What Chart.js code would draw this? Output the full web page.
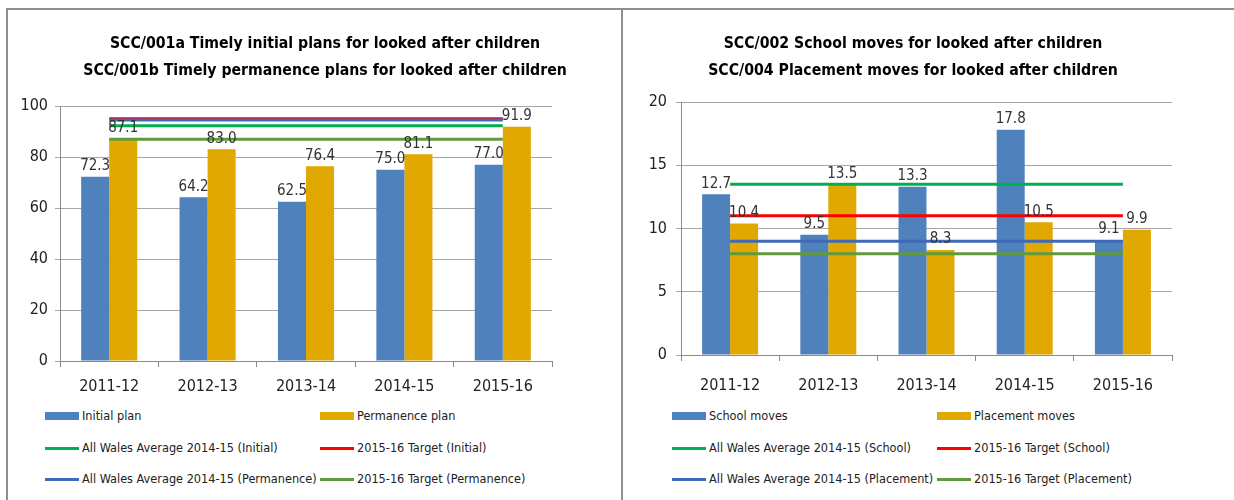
<!DOCTYPE html>
<html>
<head>
<meta charset="utf-8">
<script src="https://cdn.jsdelivr.net/npm/chart.js@4"></script>
<style>
  html, body { margin: 0; padding: 0; background: #fff; }
  body { width: 1234px; height: 500px; position: relative; overflow: hidden;
         font-family: 'Liberation Sans Narrow', 'DejaVu Sans Condensed', 'Liberation Sans', sans-serif; }
  .panel { position: absolute; top: 8px; height: 500px; border-top: 2px solid #8f8f8f; border-left: 2px solid #8f8f8f; box-sizing: border-box; }
  .box { position: absolute; }
  .title { position: absolute; width: 700px; margin-left: -350px; text-align: center; font-weight: bold;
           font-size: 15.7px; line-height: 27px; color: #000; white-space: nowrap; }
  .legend { position: absolute; font-size: 12.6px; color: #222; }
  .item { position: absolute; height: 20px; line-height: 20px; white-space: nowrap; }
  .sw { position: absolute; top: 50%; }
  .txt { position: absolute; }
</style>
</head>
<body>
<div class="panel" style="left:6px; width:616px;"></div>
<div class="panel" style="left:621px; width:620px;"></div>
<div class="box" style="left:6px; top:8px; width:616px; height:392px;"><canvas id="left"></canvas></div>
<div class="box" style="left:622px; top:8px; width:612px; height:392px;"><canvas id="right"></canvas></div>
<div id="titleLeft" class="title" style="left:325px; top:29px;"></div>
<div id="titleRight" class="title" style="left:913px; top:29px;"></div>
<div id="legendLeft" class="legend"></div>
<div id="legendRight" class="legend"></div>
<script>
// 카테고리 (연도)
const years = ['2011-12', '2012-13', '2013-14', '2014-15', '2015-16'];

// 왼쪽 차트: SCC/001a, SCC/001b
const leftTitle = ['SCC/001a Timely initial plans for looked after children', 'SCC/001b Timely permanence plans for looked after children'];
const initialPlan = [72.3, 64.2, 62.5, 75.0, 77.0];
const permanencePlan = [87.1, 83.0, 76.4, 81.1, 91.9];
const awAvgInitial = [92.3, 92.3, 92.3, 92.3, 92.3];
const targetInitial = [95, 95, 95, 95, 95];
const awAvgPermanence = [94.5, 94.5, 94.5, 94.5, 94.5];
const targetPermanence = [87, 87, 87, 87, 87];
const leftTicks = [0, 20, 40, 60, 80, 100];

// 오른쪽 차트: SCC/002, SCC/004
const rightTitle = ['SCC/002 School moves for looked after children', 'SCC/004 Placement moves for looked after children'];
const schoolMoves = [12.7, 9.5, 13.3, 17.8, 9.1];
const placementMoves = [10.4, 13.5, 8.3, 10.5, 9.9];
const awAvgSchool = [13.5, 13.5, 13.5, 13.5, 13.5];
const targetSchool = [11, 11, 11, 11, 11];
const awAvgPlacement = [9, 9, 9, 9, 9];
const targetPlacement = [8, 8, 8, 8, 8];
const rightTicks = [0, 5, 10, 15, 20];

const FONT = "'Liberation Sans Narrow', 'DejaVu Sans Condensed', 'Liberation Sans', sans-serif";
const BLUE = '#4f81bd';
const GOLD = '#e0a800';
const GREEN = '#00b050';
const RED = '#ff0000';
const NAVY = '#4169b8';
const OLIVE = '#5f9b3a';

// 막대 위에 값 표시
const valueLabels = {
  id: 'valueLabels',
  afterDatasetsDraw(chart) {
    const ctx = chart.ctx;
    ctx.save();
    ctx.font = '15px ' + FONT;
    ctx.fillStyle = '#333';
    ctx.textAlign = 'center';
    ctx.textBaseline = 'bottom';
    chart.data.datasets.forEach((ds, i) => {
      if (ds.type !== 'bar') return;
      chart.getDatasetMeta(i).data.forEach((el, j) => {
        ctx.fillText(ds.data[j].toFixed(1), el.x, el.y - 3);
      });
    });
    ctx.restore();
  }
};

function barSet(label, data, color) {
  return { type: 'bar', label, data, backgroundColor: color, borderWidth: 0,
           categoryPercentage: 0.57, barPercentage: 1.0, order: 3 };
}
function lineSet(label, data, color, order) {
  return { type: 'line', label, data, borderColor: color, backgroundColor: color,
           borderWidth: 3, pointRadius: 0, fill: false, order };
}

function makeChart(id, datasets, ticks, o) {
  return new Chart(document.getElementById(id), {
    data: { labels: years, datasets },
    options: {
      responsive: true,
      maintainAspectRatio: false,
      animation: false,
      layout: { padding: { left: 0, right: o.padRight, top: o.padTop, bottom: 0 } },
      plugins: {
        legend: { display: false },
        tooltip: { enabled: false },
        title: { display: false }
      },
      scales: {
        x: {
          grid: { drawOnChartArea: false, drawTicks: true, tickLength: 6, color: '#8a8a8a', offset: true },
          border: { display: true, color: '#8a8a8a', width: 1 },
          ticks: { color: '#222', padding: o.xPad, font: { family: FONT, size: 16 } },
          afterFit(s) { s.height = o.xHeight; }
        },
        y: {
          min: ticks[0],
          max: ticks[ticks.length - 1],
          afterBuildTicks(s) { s.ticks = ticks.map(v => ({ value: v })); },
          grid: { color: '#a6a6a6', tickLength: 5, lineWidth: 1 },
          border: { display: true, color: '#8a8a8a', width: 1 },
          ticks: { color: '#222', padding: o.yPad, font: { family: FONT, size: 16 } },
          afterFit(s) { s.width = o.yWidth; }
        }
      }
    },
    plugins: [valueLabels]
  });
}

const leftSets = [
  lineSet('All Wales Average 2014-15 (Initial)', awAvgInitial, GREEN, 1),
  lineSet('2015-16 Target (Initial)', targetInitial, RED, 1),
  lineSet('All Wales Average 2014-15 (Permanence)', awAvgPermanence, NAVY, 0),
  lineSet('2015-16 Target (Permanence)', targetPermanence, OLIVE, 1),
  barSet('Initial plan', initialPlan, BLUE),
  barSet('Permanence plan', permanencePlan, GOLD)
];
const rightSets = [
  lineSet('All Wales Average 2014-15 (School)', awAvgSchool, GREEN, 1),
  lineSet('2015-16 Target (School)', targetSchool, RED, 1),
  lineSet('All Wales Average 2014-15 (Placement)', awAvgPlacement, NAVY, 0),
  lineSet('2015-16 Target (Placement)', targetPlacement, OLIVE, 1),
  barSet('School moves', schoolMoves, BLUE),
  barSet('Placement moves', placementMoves, GOLD)
];

makeChart('left', leftSets, leftTicks,
  { padRight: 70, padTop: 98, xHeight: 39, xPad: 10, yWidth: 54, yPad: 7 });
makeChart('right', rightSets, rightTicks,
  { padRight: 62, padTop: 94, xHeight: 45, xPad: 15, yWidth: 59, yPad: 9 });

// 제목 (두 줄)
function setTitle(elId, lines) {
  const el = document.getElementById(elId);
  lines.forEach(t => {
    const d = document.createElement('div');
    d.textContent = t;
    el.appendChild(d);
  });
}
setTitle('titleLeft', leftTitle);
setTitle('titleRight', rightTitle);

// 범례: 막대 두 개, 그다음 선 네 개 (2열)
function buildLegend(elId, sets, col1, col2) {
  const el = document.getElementById(elId);
  const bars = sets.filter(d => d.type === 'bar');
  const lines = sets.filter(d => d.type === 'line');
  const ordered = bars.concat(lines);
  const rowsY = [416, 448, 479];
  ordered.forEach((d, i) => {
    const row = Math.floor(i / 2);
    const x = i % 2 === 0 ? col1 : col2;
    const item = document.createElement('div');
    item.className = 'item';
    item.style.left = x + 'px';
    item.style.top = (rowsY[row] - 10) + 'px';
    const sw = document.createElement('div');
    sw.className = 'sw';
    const h = d.type === 'bar' ? 8 : 3;
    sw.style.cssText = `left:0;width:34px;height:${h}px;margin-top:${-h / 2}px;background:${d.type === 'bar' ? d.backgroundColor : d.borderColor};`;
    const tx = document.createElement('span');
    tx.className = 'txt';
    tx.style.left = '37px';
    tx.textContent = d.label;
    item.appendChild(sw);
    item.appendChild(tx);
    el.appendChild(item);
  });
}
buildLegend('legendLeft', leftSets, 45, 320);
buildLegend('legendRight', rightSets, 672, 937);
</script>
</body>
</html>
